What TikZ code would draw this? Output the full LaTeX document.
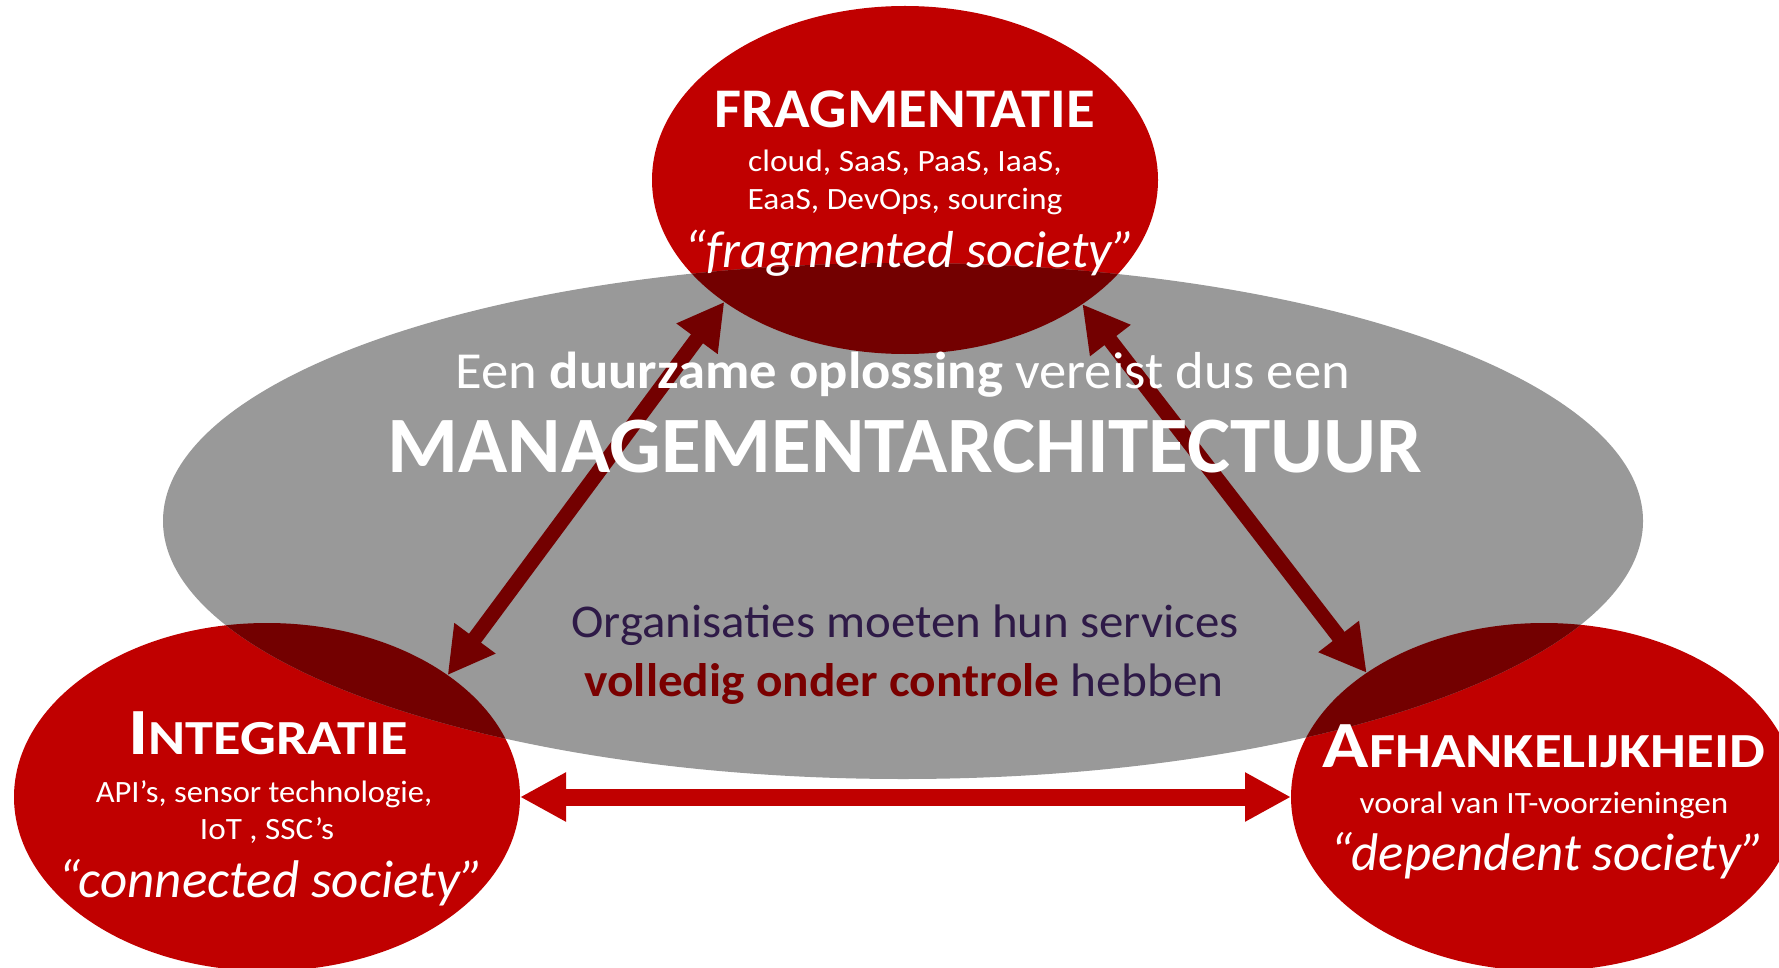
\documentclass[tikz,border=0pt]{standalone}
\usepackage{fontspec}
\setmainfont{Carlito}
\usetikzlibrary{arrows.meta,shapes.geometric}
\definecolor{redfill}{HTML}{C00000}
\definecolor{grayfill}{HTML}{999999}
\definecolor{overlapred}{HTML}{730000}
\definecolor{txtpurple}{HTML}{2E1A47}
\definecolor{txtred}{HTML}{7A0000}
\newcommand{\fs}[1]{\fontsize{#1}{#1}\selectfont}
\newcommand{\wide}[2]{\scalebox{#1}[1]{#2}}
\begin{document}
\begin{tikzpicture}[x=1pt,y=-1pt,
  blob/.style={ellipse, fill=redfill, inner sep=0pt, outer sep=0pt, minimum width=506pt, minimum height=348pt},
  core/.style={ellipse, fill=grayfill, inner sep=0pt, outer sep=0pt, minimum width=1480pt, minimum height=516pt},
  txt/.style={anchor=base, inner sep=0pt, outer sep=0pt, text=white},
  darrow/.style={draw=overlapred, line width=15pt, {Triangle[length=46pt,width=48pt]}-{Triangle[length=46pt,width=48pt]}},
  harrow/.style={draw=redfill, line width=17pt, {Triangle[length=46pt,width=46pt]}-{Triangle[length=46pt,width=46pt]}}
]
\useasboundingbox[fill=white] (0,0) rectangle (1779,968);

% ellipses
\node[blob] (top) at (905,180) {};
\node[blob] (left) at (267,797) {};
\node[blob] (right) at (1544,797) {};
\node[core] (core) at (903,521) {};

% overlaps of grey and red
\begin{scope}
  \clip (core.center) ellipse [x radius=740pt, y radius=258pt];
  \fill[overlapred] (top.center) ellipse [x radius=253pt, y radius=174pt];
  \fill[overlapred] (left.center) ellipse [x radius=253pt, y radius=174pt];
  \fill[overlapred] (right.center) ellipse [x radius=253pt, y radius=174pt];
\end{scope}

% connectors
\draw[darrow] (top.214.6) -- (left.34.8);
\draw[darrow] (top.325.7) -- (right.145.3);
\draw[harrow] (left.east) -- (right.west);

% top texts
\node[txt] (fragtitle) at (905,128) {\fs{56}\bfseries\wide{1.05}{FRAGMENTATIE}};
\node[txt] (frag1) at (905,172) {\fs{31}\wide{1.08}{cloud, SaaS, PaaS, IaaS,}};
\node[txt] (frag2) at (905,210) {\fs{31}\wide{1.08}{EaaS, DevOps, sourcing}};
\node[txt] (frag3) at (910,267) {\fs{52}\itshape “fragmented society”};

% central texts
\node[txt] (c1) at (903,388) {\fs{52}\wide{1.05}{Een \textbf{duurzame oplossing} vereist dus een}};
\node[txt] (c2) at (905,472) {\fs{80}\bfseries\wide{1.015}{MANAGEMENTARCHITECTUUR}};
\node[txt, text=txtpurple] (c3) at (905,637) {\fs{47}\wide{1.04}{Organisaties moeten hun services}};
\node[txt, text=txtpurple] (c4) at (904,696) {\fs{47}\wide{1.05}{\textcolor{txtred}{\bfseries volledig onder controle} hebben}};

% left texts
\node[txt] (inttitle) at (268,754) {\bfseries\wide{1.15}{\fs{66}I\fs{49}NTEGRATIE}};
\node[txt] (int1) at (264,802) {\fs{31}\wide{1.05}{API’s, sensor technologie,}};
\node[txt] (int2) at (267,839) {\fs{31}\wide{1.07}{IoT , SSC’s}};
\node[txt] (int3) at (271,897) {\fs{53}\itshape “connected society”};

% right texts
\node[txt] (afhtitle) at (1544,767) {\bfseries\wide{1.16}{\fs{66}A\fs{49}FHANKELIJKHEID}};
\node[txt] (afh1) at (1544,813) {\fs{31}\wide{1.07}{vooral van IT-voorzieningen}};
\node[txt] (afh2) at (1548,870) {\fs{53}\itshape “dependent society”};
\end{tikzpicture}
\end{document}
